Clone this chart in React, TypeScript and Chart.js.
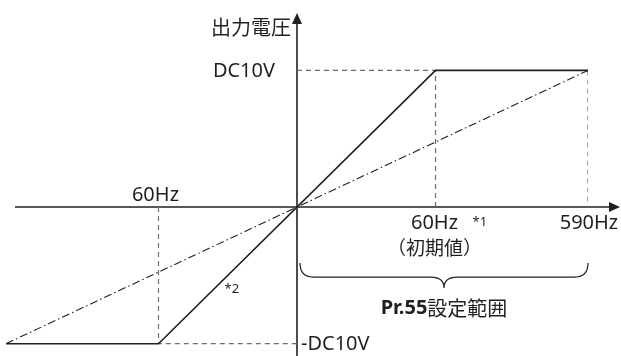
import React, { useEffect, useRef } from 'react';
import { Chart, LinearScale, registerables } from 'chart.js';

// ---- data (frequency in Hz, output in V) ----
const SOLID_HZ = [-590, -60, 60, 590];
const SOLID_V = [-10, -10, 10, 10];
const LINEAR_HZ = [-590, 590];
const LINEAR_V = [-10, 10];
const GUIDE_HZ = [0, 60, 60, 60, 590, 590, 590, -60, -60, 0];
const GUIDE_V: (number | null)[] = [10, 10, 0, null, 10, 0, null, 0, -10, -10];

const X_TICK_VALUES = [-60, 60, 590];
const X_TICK_LABELS = ['60Hz', '60Hz', '590Hz'];
const Y_TICK_VALUES = [10, -10];
const Y_TICK_LABELS = ['DC10V', '-DC10V'];
const AXIS_TITLE = '出力電圧';
const NOTE_1 = '*1';
const NOTE_2 = '*2';
const DEFAULT_NOTE = '（初期値）';
const RANGE_BOLD = 'Pr.55';
const RANGE_TEXT = '設定範囲';

const INK = '#231f20';
const GUIDE = '#6d6e71';
const FONT = '"Noto Sans", "Noto Sans CJK JP", sans-serif';
const JFONT = '"Noto Sans CJK JP", "Noto Sans", sans-serif';

// Schematic (broken) frequency scale: |f| <= knee is stretched
class BreakScale extends LinearScale {
  static id = 'hzbreak';
  static defaults = { ...(LinearScale as any).defaults };
  warp(v: number) {
    const o: any = (this as any).options;
    const knee = o.knee ?? 60;
    const frac = o.kneeFraction ?? 0.476;
    const fmax = o.max ?? 590;
    const a = Math.abs(v);
    const s = v < 0 ? -1 : 1;
    let w;
    if (a <= knee) w = (a / knee) * frac;
    else w = frac + ((a - knee) / (fmax - knee)) * (1 - frac);
    return s * w * fmax;
  }
  unwarp(p: number) {
    const o: any = (this as any).options;
    const knee = o.knee ?? 60;
    const frac = o.kneeFraction ?? 0.476;
    const fmax = o.max ?? 590;
    const s = p < 0 ? -1 : 1;
    const w = Math.abs(p) / fmax;
    if (w <= frac) return s * (w / frac) * knee;
    return s * (knee + ((w - frac) / (1 - frac)) * (fmax - knee));
  }
  getPixelForValue(value: any) {
    if (value === null || value === undefined) return NaN;
    return super.getPixelForValue(this.warp(value));
  }
  getValueForPixel(pixel: number) {
    return this.unwarp(super.getValueForPixel(pixel) as number);
  }
}

Chart.register(...registerables, BreakScale as any);

const pts = (xs: number[], ys: (number | null)[]) => xs.map((x, i) => ({ x, y: ys[i] }));

const drawPlugin = {
  id: 'schematic',
  beforeDatasetsDraw(chart: any) {
    const { ctx, scales, width, height } = chart;
    const xs = scales.x, ys = scales.y;
    const x0 = xs.getPixelForValue(0);
    const y0 = ys.getPixelForValue(0);
    ctx.save();
    ctx.strokeStyle = INK;
    ctx.fillStyle = INK;
    ctx.lineWidth = 1.6;
    ctx.setLineDash([]);
    // horizontal axis
    ctx.beginPath();
    ctx.moveTo(chart.chartArea.left + 9, y0);
    ctx.lineTo(width - 10, y0);
    ctx.stroke();
    ctx.beginPath();
    ctx.moveTo(width - 1, y0);
    ctx.lineTo(width - 12, y0 - 5);
    ctx.lineTo(width - 12, y0 + 5);
    ctx.closePath();
    ctx.fill();
    // vertical axis
    const top = chart.chartArea.top;
    ctx.beginPath();
    ctx.moveTo(x0, height);
    ctx.lineTo(x0, top + 9);
    ctx.stroke();
    ctx.beginPath();
    ctx.moveTo(x0, top);
    ctx.lineTo(x0 - 5, top + 11);
    ctx.lineTo(x0 + 5, top + 11);
    ctx.closePath();
    ctx.fill();
    ctx.restore();
  },
  afterDraw(chart: any) {
    const { ctx, scales } = chart;
    const xs = scales.x, ys = scales.y;
    const x0 = xs.getPixelForValue(0);
    const y0 = ys.getPixelForValue(0);
    const top = chart.chartArea.top;
    ctx.save();
    ctx.fillStyle = INK;
    ctx.textBaseline = 'middle';

    // axis title
    ctx.font = `20px ${JFONT}`;
    ctx.textAlign = 'right';
    ctx.fillText(AXIS_TITLE, x0 - 6, top + 14);

    // y labels
    ctx.font = `20px ${FONT}`;
    ctx.textAlign = 'right';
    ctx.fillText(Y_TICK_LABELS[0], x0 - 22, ys.getPixelForValue(Y_TICK_VALUES[0]) + 1);
    ctx.textAlign = 'left';
    ctx.fillText(Y_TICK_LABELS[1], x0 + 4, ys.getPixelForValue(Y_TICK_VALUES[1]) + 1);

    // x labels
    ctx.textAlign = 'center';
    X_TICK_VALUES.forEach((v, i) => {
      const px = xs.getPixelForValue(v);
      const py = v < 0 ? y0 - 12 : y0 + 16;
      ctx.fillText(X_TICK_LABELS[i], px - (v < 0 ? 3 : (v === 590 ? -1 : 1)), py);
    });

    // notes
    ctx.font = `13px ${FONT}`;
    ctx.textAlign = 'left';
    const x60 = xs.getPixelForValue(60);
    ctx.fillText(NOTE_1, x60 + 37, y0 + 15);
    const xm60 = xs.getPixelForValue(-60);
    ctx.fillText(NOTE_2, xm60 + 66, ys.getPixelForValue(-10) - 54);

    ctx.font = `19px ${JFONT}`;
    ctx.textAlign = 'center';
    ctx.fillText(DEFAULT_NOTE, x60 - 1, y0 + 41);

    // brace
    const xL = x0 + 3;
    const xR = xs.getPixelForValue(590);
    const xM = (xL + xR) / 2;
    const yT = y0 + 56, yMid = y0 + 70, yTip = y0 + 81;
    const r = 13;
    ctx.strokeStyle = INK;
    ctx.lineWidth = 1.2;
    ctx.beginPath();
    ctx.moveTo(xL, yT);
    ctx.quadraticCurveTo(xL, yMid, xL + r, yMid);
    ctx.lineTo(xM - r, yMid);
    ctx.quadraticCurveTo(xM, yMid, xM, yTip);
    ctx.quadraticCurveTo(xM, yMid, xM + r, yMid);
    ctx.lineTo(xR - r, yMid);
    ctx.quadraticCurveTo(xR, yMid, xR, yT);
    ctx.stroke();

    // range label
    ctx.textAlign = 'left';
    ctx.font = `bold 20px ${FONT}`;
    const wB = ctx.measureText(RANGE_BOLD).width;
    ctx.font = `20px ${JFONT}`;
    const wT = ctx.measureText(RANGE_TEXT).width;
    const startX = xM - (wB + wT) / 2;
    ctx.font = `bold 20px ${FONT}`;
    ctx.fillText(RANGE_BOLD, startX, y0 + 101);
    ctx.font = `20px ${JFONT}`;
    ctx.fillText(RANGE_TEXT, startX + wB, y0 + 101);
    ctx.restore();
  },
};

export default function App() {
  const ref = useRef<HTMLCanvasElement>(null);
  useEffect(() => {
    if (!ref.current) return;
    const chart = new Chart(ref.current, {
      type: 'line',
      data: {
        datasets: [
          {
            label: 'solid',
            data: pts(SOLID_HZ, SOLID_V),
            borderColor: INK,
            borderWidth: 1.6,
            pointRadius: 0,
            tension: 0,
            order: 0,
          },
          {
            label: 'linear',
            data: pts(LINEAR_HZ, LINEAR_V),
            borderColor: INK,
            borderWidth: 1.1,
            borderDash: [8, 3, 1.5, 3],
            pointRadius: 0,
            tension: 0,
            order: 1,
          },
          {
            label: 'guides',
            data: pts(GUIDE_HZ, GUIDE_V),
            borderColor: GUIDE,
            borderWidth: 1.2,
            borderDash: [5, 4],
            pointRadius: 0,
            tension: 0,
            spanGaps: false,
            order: 2,
          },
        ],
      },
      options: {
        animation: false,
        responsive: false,
        devicePixelRatio: 1,
        layout: { padding: { left: 6, right: 33, top: 13, bottom: 0 } },
        plugins: { legend: { display: false }, tooltip: { enabled: false } },
        scales: {
          x: { type: 'hzbreak' as any, min: -590, max: 590, display: false, knee: 60, kneeFraction: 0.476 } as any,
          y: { type: 'linear', min: -10.9, max: 14.2, display: false },
        },
      },
      plugins: [drawPlugin],
    } as any);
    return () => chart.destroy();
  }, []);
  return (
    <div style={{ position: 'absolute', left: 0, top: 0, width: 621, height: 356, background: '#fff' }}>
      <canvas ref={ref} width={621} height={356} />
    </div>
  );
}
